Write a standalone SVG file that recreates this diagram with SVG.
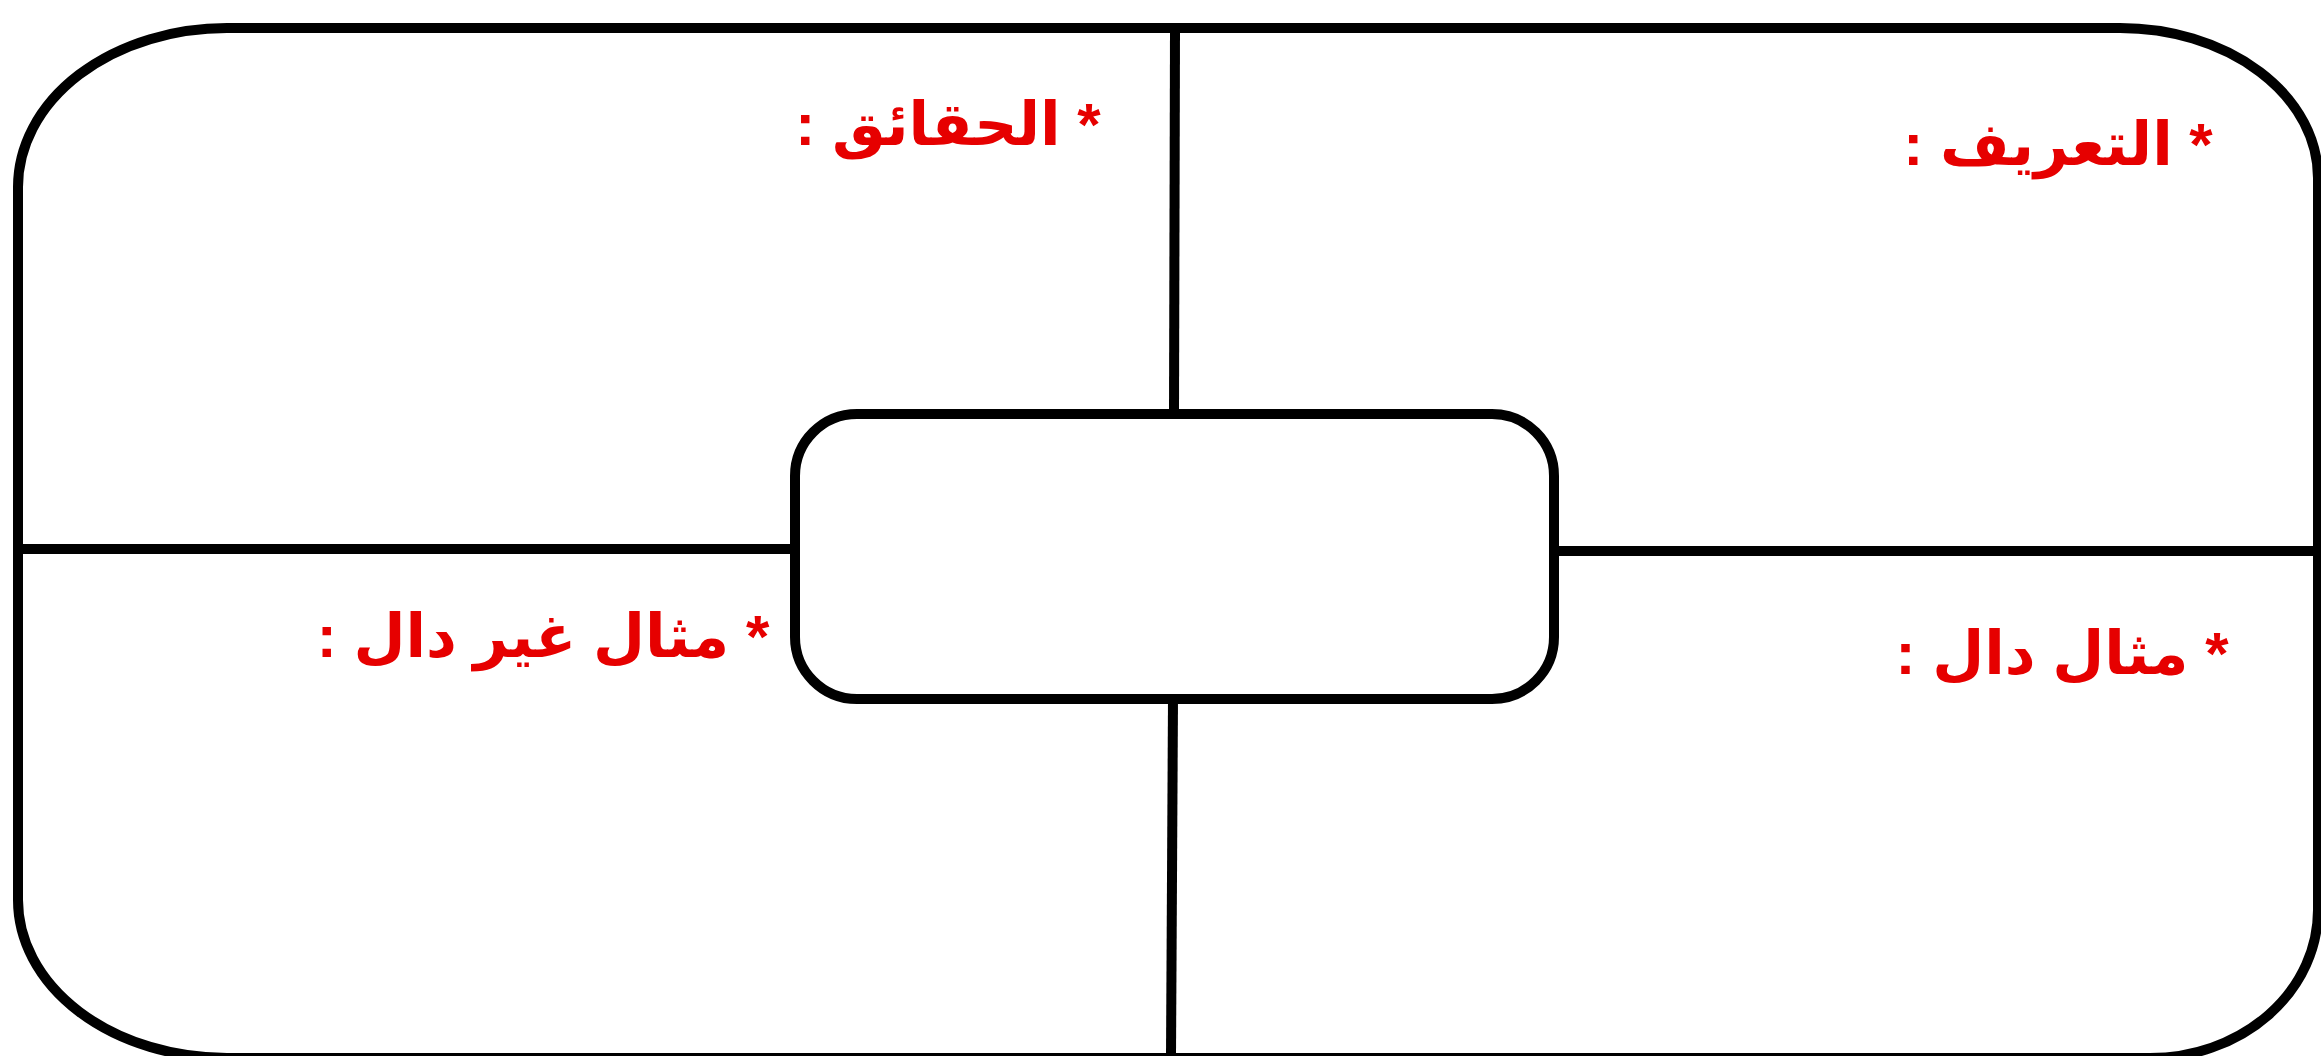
<svg xmlns="http://www.w3.org/2000/svg" width="2321" height="1056" viewBox="0 0 2321 1056">
<style>
.ln{fill:none;stroke:#000;stroke-width:10;stroke-linecap:butt}
.lbl{font-family:"Liberation Sans",Arial,"DejaVu Sans",sans-serif;font-weight:bold;font-size:60px;fill:#e60000;direction:rtl;text-anchor:middle}
</style>
<rect width="2321" height="1056" fill="#fff"/>
<g id="frame">
<path class="ln" d="M227,28 H2120 A198,150 0 0 1 2318,178 V910 A168,148 0 0 1 2150,1058 H227 A209,158 0 0 1 18,900 V187 A209,159 0 0 1 227,28 Z"/>
</g>
<g id="connectors">
<line class="ln" x1="1175" y1="28" x2="1174" y2="414"/>
<line class="ln" x1="1173" y1="699" x2="1171" y2="1056"/>
<line class="ln" x1="18" y1="549" x2="795" y2="549"/>
<line class="ln" x1="1554" y1="551" x2="2321" y2="551"/>
</g>
<g id="center">
<rect class="ln" x="795" y="414" width="759" height="285" rx="62" ry="62" fill="#fff"/>
</g>
<g id="facts"><text class="lbl" x="948" y="145">* الحقائق :</text></g>
<g id="definition"><text class="lbl" x="2058" y="165">* التعريف :</text></g>
<g id="non-example"><text class="lbl" x="543" y="657">* مثال غير دال :</text></g>
<g id="example"><text class="lbl" x="2062" y="674">* مثال دال :</text></g>
</svg>
